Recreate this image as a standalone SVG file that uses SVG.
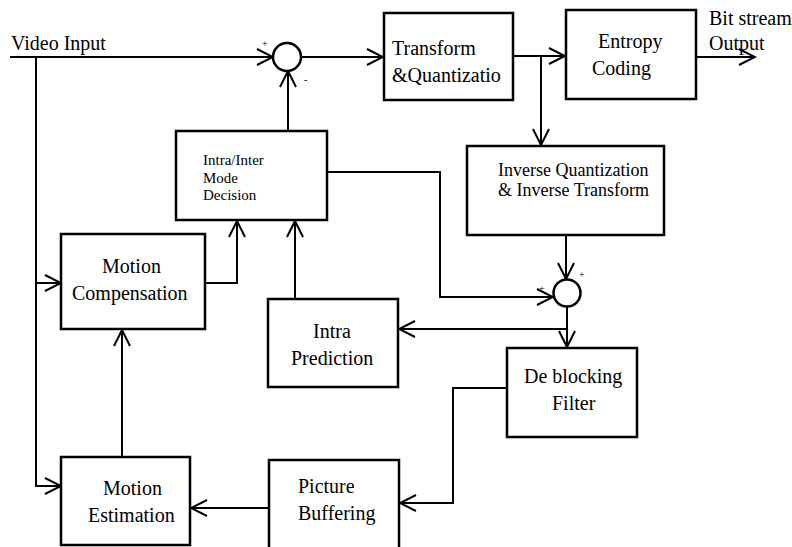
<svg xmlns="http://www.w3.org/2000/svg" width="792" height="547" viewBox="0 0 792 547">
<style>
.box{fill:#fff;stroke:#000;stroke-width:2.5}
.ln{fill:none;stroke:#000;stroke-width:2}
.ah{fill:none;stroke:#000;stroke-width:2}
.t{font-family:"Liberation Serif","Times New Roman",serif;font-size:20px;fill:#000}
.s{font-size:15px}
.m{font-size:18px}
.sg{font-family:"Liberation Serif",serif;font-size:10px;fill:#000}
</style>
<defs>
<marker id="arr" viewBox="-18 -10 20 20" refX="0" refY="0" markerWidth="20" markerHeight="20" markerUnits="userSpaceOnUse" orient="auto">
<path d="M-16,-8 L0,0 L-16,8" fill="none" stroke="#000" stroke-width="2"/>
</marker>
</defs>
<rect width="792" height="547" fill="#fff"/>
<text class="t" x="11" y="50">Video Input</text>
<text class="t" x="709" y="25">Bit stream</text>
<text class="t" x="709" y="50">Output</text>
<g id="connectors">
<path class="ln" d="M10,57 L273,57" marker-end="url(#arr)"/>
<path class="ln" d="M36,57 L36,486 L61,486" marker-end="url(#arr)"/>
<path class="ln" d="M36,283 L61,283" marker-end="url(#arr)"/>
<path class="ln" d="M301,57 L383,57" marker-end="url(#arr)"/>
<path class="ln" d="M288,131 L288,71" marker-end="url(#arr)"/>
<path class="ln" d="M513,56 L565,56" marker-end="url(#arr)"/>
<path class="ln" d="M696,57 L755,57" marker-end="url(#arr)"/>
<path class="ln" d="M541,56 L541,145" marker-end="url(#arr)"/>
<path class="ln" d="M566,235 L566,279" marker-end="url(#arr)"/>
<path class="ln" d="M327,172 L440,172 L440,297 L553,297" marker-end="url(#arr)"/>
<path class="ln" d="M567,306 L567,347" marker-end="url(#arr)"/>
<path class="ln" d="M567,329 L399,329" marker-end="url(#arr)"/>
<path class="ln" d="M205,283 L237,283 L237,221" marker-end="url(#arr)"/>
<path class="ln" d="M295,299 L295,221" marker-end="url(#arr)"/>
<path class="ln" d="M122,457 L122,330" marker-end="url(#arr)"/>
<path class="ln" d="M507,388 L453,388 L453,503 L400,503" marker-end="url(#arr)"/>
<path class="ln" d="M269,508 L191,508" marker-end="url(#arr)"/>
</g>
<g id="sum1">
<circle cx="287" cy="57" r="14" class="box" stroke-width="2.2"/>
<text class="sg" x="262" y="47">+</text>
<text class="sg" x="304" y="83">-</text>
</g>
<g id="sum2">
<circle cx="567" cy="293" r="13.5" class="box" stroke-width="2.2"/>
<text class="sg" x="579" y="278">+</text>
<text class="sg" x="539" y="292">+</text>
</g>
<g id="transform">
<rect class="box" x="384" y="13" width="129" height="87"/>
<text class="t" x="392" y="55">Transform</text>
<text class="t" x="392" y="82">&amp;Quantizatio</text>
</g>
<g id="entropy">
<rect class="box" x="566" y="10" width="130" height="89"/>
<text class="t" x="598" y="48">Entropy</text>
<text class="t" x="592" y="75">Coding</text>
</g>
<g id="inverse">
<rect class="box" x="467" y="146" width="197" height="89"/>
<text class="t m" x="498" y="176">Inverse Quantization</text>
<text class="t m" x="498" y="196">&amp; Inverse Transform</text>
</g>
<g id="mode">
<rect class="box" x="176" y="131" width="151" height="89"/>
<text class="t s" x="203" y="165">Intra/Inter</text>
<text class="t s" x="203" y="183">Mode</text>
<text class="t s" x="203" y="200">Decision</text>
</g>
<g id="mc">
<rect class="box" x="61" y="234" width="144" height="95"/>
<text class="t" x="102" y="273">Motion</text>
<text class="t" x="72" y="300">Compensation</text>
</g>
<g id="intra">
<rect class="box" x="268" y="299" width="130" height="88"/>
<text class="t" x="313" y="338">Intra</text>
<text class="t" x="291" y="365">Prediction</text>
</g>
<g id="deblock">
<rect class="box" x="507" y="348" width="130" height="89"/>
<text class="t" x="524" y="383">De blocking</text>
<text class="t" x="552" y="410">Filter</text>
</g>
<g id="me">
<rect class="box" x="61" y="457" width="129" height="88"/>
<text class="t" x="103" y="495">Motion</text>
<text class="t" x="88" y="522">Estimation</text>
</g>
<g id="pb">
<rect class="box" x="269" y="460" width="130" height="95"/>
<text class="t" x="298" y="493">Picture</text>
<text class="t" x="298" y="520">Buffering</text>
</g>
</svg>
